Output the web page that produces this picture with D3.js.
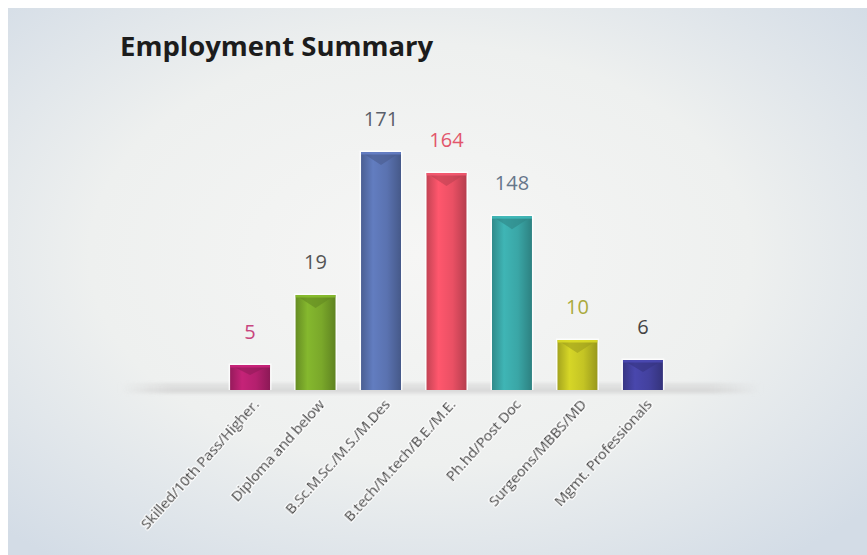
<!DOCTYPE html>
<html>
<head>
<meta charset="utf-8">
<script src="https://cdn.jsdelivr.net/npm/d3@7/dist/d3.min.js"></script>
<style>
  html, body { margin: 0; padding: 0; background: #ffffff; }
  svg { display: block; }
</style>
</head>
<body>
<svg id="chart" width="867" height="555"></svg>
<script>
// Employment counts by qualification
const categories = [
  "Skilled/10th Pass/Higher.",
  "Diploma and below",
  "B.Sc.M.Sc./M.S./M.Des",
  "B.tech/M.tech/B.E./M.E.",
  "Ph.hd/Post Doc",
  "Surgeons/MBBS/MD",
  "Mgmt. Professionals"
];
const values = [5, 19, 171, 164, 148, 10, 6];
const barColors = ["#b4206e", "#7aa82a", "#5a72b0", "#ea5064", "#3aa6a6", "#c4c424", "#43419e"];
const labelColors = ["#c8457e", "#555555", "#5a5f6a", "#e2566c", "#66768a", "#aaaa3c", "#444444"];
const title = "Employment Summary";

const svg = d3.select("#chart");
const W = 867, H = 555;
const baseY = 390;

const defs = svg.append("defs");

// soft radial backdrop
const bg = defs.append("radialGradient").attr("id", "bg")
  .attr("cx", "48%").attr("cy", "45%").attr("r", "70%");
bg.append("stop").attr("offset", "0%").attr("stop-color", "#f6f6f5");
bg.append("stop").attr("offset", "55%").attr("stop-color", "#eef0ef");
bg.append("stop").attr("offset", "100%").attr("stop-color", "#d3dce6");
svg.append("rect").attr("x", 8).attr("y", 8).attr("width", W - 8).attr("height", H - 8)
  .attr("fill", "url(#bg)");

// shelf under the bars
const shelf = defs.append("linearGradient").attr("id", "shelf").attr("x1", 0).attr("x2", 1);
shelf.append("stop").attr("offset", "0%").attr("stop-color", "#d4d4d4").attr("stop-opacity", 0);
shelf.append("stop").attr("offset", "8%").attr("stop-color", "#d4d4d4").attr("stop-opacity", 1);
shelf.append("stop").attr("offset", "92%").attr("stop-color", "#d4d4d4").attr("stop-opacity", 1);
shelf.append("stop").attr("offset", "100%").attr("stop-color", "#d4d4d4").attr("stop-opacity", 0);
const blur = defs.append("filter").attr("id", "soft").attr("x", "-10%").attr("y", "-200%")
  .attr("width", "120%").attr("height", "500%");
blur.append("feGaussianBlur").attr("stdDeviation", 1.8);

svg.append("rect").attr("x", 118).attr("y", baseY - 7).attr("width", 645).attr("height", 11)
  .attr("fill", "url(#shelf)").attr("filter", "url(#soft)").attr("opacity", 0.55);
svg.append("rect").attr("x", 125).attr("y", baseY - 1).attr("width", 630).attr("height", 2)
  .attr("fill", "url(#shelf)").attr("filter", "url(#soft)");

// scales
const x = d3.scaleBand().domain(categories).range([217, 676]).paddingInner(0.39).paddingOuter(0.2);
// compressed value axis: small counts are stretched so every bar stays visible
const y = d3.scaleLinear().domain([0, 20, 150, 175]).range([baseY, baseY - 100, baseY - 175, baseY - 250]);

// cylinder-like shading per bar
barColors.forEach((c, i) => {
  const g = defs.append("linearGradient").attr("id", "bar" + i).attr("x1", 0).attr("x2", 1);
  const base = d3.color(c);
  g.append("stop").attr("offset", "0%").attr("stop-color", base.darker(0.5));
  g.append("stop").attr("offset", "30%").attr("stop-color", base.brighter(0.25));
  g.append("stop").attr("offset", "65%").attr("stop-color", base);
  g.append("stop").attr("offset", "100%").attr("stop-color", base.darker(0.7));
});

const bars = svg.append("g").selectAll("g").data(categories).join("g");

bars.append("rect")
  .attr("x", d => x(d) - 1.5)
  .attr("y", (d, i) => y(values[i]) - 1.5)
  .attr("width", x.bandwidth() + 3)
  .attr("height", (d, i) => baseY - y(values[i]) + 1.5)
  .attr("fill", "#ffffff").attr("opacity", 0.8);

bars.append("rect")
  .attr("x", d => x(d))
  .attr("y", (d, i) => y(values[i]))
  .attr("width", x.bandwidth())
  .attr("height", (d, i) => baseY - y(values[i]))
  .attr("fill", (d, i) => `url(#bar${i})`);

// folded tip at the top of each bar
bars.append("path")
  .attr("d", (d, i) => {
    const x0 = x(d), w = x.bandwidth(), t = y(values[i]);
    const depth = Math.min(13, (baseY - t) * 0.4);
    return `M${x0},${t}L${x0 + w},${t}L${x0 + w / 2},${t + depth}Z`;
  })
  .attr("fill", (d, i) => d3.color(barColors[i]).darker(0.6))
  .attr("opacity", 0.6);
bars.append("rect")
  .attr("x", d => x(d))
  .attr("y", (d, i) => y(values[i]))
  .attr("width", x.bandwidth())
  .attr("height", 2.5)
  .attr("fill", (d, i) => d3.color(barColors[i]).brighter(0.5))
  .attr("opacity", 0.7);

// value labels
bars.append("text")
  .attr("x", d => x(d) + x.bandwidth() / 2)
  .attr("y", (d, i) => y(values[i]) - 26)
  .attr("text-anchor", "middle")
  .attr("font-family", "'Open Sans', sans-serif")
  .attr("font-size", 20)
  .attr("fill", (d, i) => labelColors[i])
  .text((d, i) => values[i]);

// category axis labels, slanted
const glow = defs.append("filter").attr("id", "glow");
glow.append("feMorphology").attr("in", "SourceAlpha").attr("operator", "dilate").attr("radius", 1.2).attr("result", "d");
glow.append("feFlood").attr("flood-color", "#ffffff");
glow.append("feComposite").attr("in2", "d").attr("operator", "in").attr("result", "w");
const gm = glow.append("feMerge");
gm.append("feMergeNode").attr("in", "w");
gm.append("feMergeNode").attr("in", "SourceGraphic");

const xAxis = d3.axisBottom(x).tickSize(0).tickPadding(0);
const axisG = svg.append("g").attr("transform", `translate(0,${baseY + 12})`).call(xAxis);
axisG.select(".domain").remove();
axisG.selectAll("text")
  .attr("font-family", "'Open Sans', sans-serif")
  .attr("font-size", 15)
  .attr("font-weight", 600)
  .attr("letter-spacing", "-0.5px")
  .attr("fill", "#505050")
  .attr("filter", "url(#glow)")
  .attr("text-anchor", "end")
  .attr("dy", "0.35em")
  .attr("transform", "translate(6,0) rotate(-48)");

// title
svg.append("text")
  .attr("x", 120).attr("y", 56)
  .attr("font-family", "'Open Sans', sans-serif")
  .attr("font-weight", 700)
  .attr("font-size", 27.5)
  .attr("fill", "#1c1c1c")
  .text(title);
</script>
</body>
</html>
